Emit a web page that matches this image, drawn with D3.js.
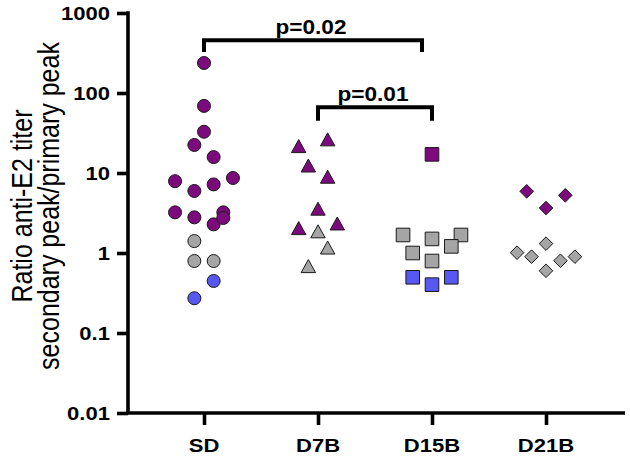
<!DOCTYPE html>
<html><head><meta charset="utf-8">
<script src="https://cdn.jsdelivr.net/npm/d3@7"></script>
<style>
html,body{margin:0;padding:0;background:#fff;}
text{font-family:"Liberation Sans",Arial,sans-serif;fill:#000;}
</style></head>
<body><svg id="chart" width="630" height="456"></svg>
<script>
// ---- data ----
const categories = ["SD", "D7B", "D15B", "D21B"];
const yTickValues = [0.01, 0.1, 1, 10, 100, 1000];
const yTickLabels = ["0.01", "0.1", "1", "10", "100", "1000"];
const yTitleLines = ["Ratio anti-E2 titer", "secondary peak/primary peak"];

// values, colour group (p=purple, g=grey, b=blue), beeswarm slot (half-steps)
const sdValues = [237, 69, 32.8, 22.4, 15.8, 7.9, 5.96, 7.2, 8.66, 3.22, 2.79, 2.28, 3.22, 2.74, 1.41, 0.794, 0.794, 0.447, 0.272];
const sdGroup  = ["p","p","p","p","p","p","p","p","p","p","p","p","p","p","g","g","g","b","b"];
const sdSlot   = [0, 0, 0, -1, 1, -3, -1, 1, 3, -3, -1, 1, 2, 2, -1, -1, 1, 1, -1];

const d7bValues = [21.5, 26.1, 12.3, 8.9, 3.55, 2.03, 2.32, 1.85, 1.16, 0.68];
const d7bGroup  = ["p","p","p","p","p","p","p","g","g","g"];
const d7bSlot   = [-2, 1, -1, 1, 0, -2, 2, 0, 1, -1];

const d15bValues = [17.1, 1.68, 1.50, 1.68, 1.0, 1.21, 0.794, 0.497, 0.402, 0.497];
const d15bGroup  = ["p","g","g","g","g","g","g","b","b","b"];
const d15bSlot   = [0, -3, 0, 3, -2, 2, 0, -2, 0, 2];

const d21bValues = [5.9, 5.26, 3.65, 1.31, 1.01, 0.90, 0.90, 0.80, 0.60];
const d21bGroup  = ["p","p","p","g","g","g","g","g","g"];
const d21bSlot   = [-2, 2, 0, 0, -3, -1.5, 3, 1.5, 0];

const groupColors = {p: "#7d0a7d", g: "#a5a5a5", b: "#5757f2"};
const categoryShapes = ["circle", "triangle", "square", "diamond"];

// brackets: from, to, height (value), leg bottom (value), label
const bracketFrom   = ["SD", "D7B"];
const bracketTo     = ["D15B", "D15B"];
const bracketTop    = [456, 66.2];
const bracketBottom = [325, 45.1];
const bracketLabel  = ["p=0.02", "p=0.01"];
const bracketEndShift = [-10, 0];

// ---- drawing ----
const svg = d3.select("#chart");
const SX = 1.16; // horizontal text stretch of the original figure

const x = d3.scalePoint().domain(categories).range([204, 546]);
const y = d3.scaleLog().domain([0.01, 1000]).range([413, 13]);
const jitter = d3.scaleLinear().domain([0, 1]).range([0, 9.65]);

const allGroups = [
  {cat: "SD", values: sdValues, group: sdGroup, slot: sdSlot},
  {cat: "D7B", values: d7bValues, group: d7bGroup, slot: d7bSlot},
  {cat: "D15B", values: d15bValues, group: d15bGroup, slot: d15bSlot},
  {cat: "D21B", values: d21bValues, group: d21bGroup, slot: d21bSlot}
];

function shapePath(shape) {
  if (shape === "circle") return d3.symbol(d3.symbolCircle, Math.PI * 6.5 * 6.5)();
  if (shape === "square") { const h = 6.8; return `M${-h},${-h}H${h}V${h}H${-h}Z`; }
  if (shape === "triangle") { return `M0,-6.8L7.2,6.2L-7.2,6.2Z`; }
  if (shape === "diamond") { const h = 6.8; return `M0,${-h}L${h},0L0,${h}L${-h},0Z`; }
}

// axes
const yAxis = d3.axisLeft(y).tickValues(yTickValues).tickSize(11).tickFormat("");
const gy = svg.append("g").attr("transform", "translate(128,0)").call(yAxis);
gy.select(".domain").attr("d", `M0,${y(1000) - 1.75}V${y(0.01)}`).attr("stroke", "#000").attr("stroke-width", 3.6);
gy.selectAll(".tick line").attr("stroke", "#000").attr("stroke-width", 3.6);

const xAxis = d3.axisBottom(x).tickSize(12).tickFormat("");
const gx = svg.append("g").attr("transform", `translate(0,${y(0.01)})`).call(xAxis);
gx.select(".domain").attr("d", `M126.2,0H625`).attr("stroke", "#000").attr("stroke-width", 3.6);
gx.selectAll(".tick line").attr("stroke", "#000").attr("stroke-width", 3.6);

// y tick labels
svg.append("g").selectAll("text").data(yTickValues).join("text")
  .attr("transform", (d) => `translate(110,${y(d) + 6.8}) scale(${SX},1)`)
  .attr("text-anchor", "end")
  .style("font-size", "19px").style("font-weight", "bold")
  .text((d, i) => yTickLabels[i]);

// x labels
svg.append("g").selectAll("text").data(categories).join("text")
  .attr("transform", (d) => `translate(${x(d)},451.5) scale(${SX},1)`)
  .attr("text-anchor", "middle")
  .style("font-size", "19px").style("font-weight", "bold")
  .text((d) => d);

// y title
const titleX = [32, 59];
svg.append("g").selectAll("text").data(yTitleLines).join("text")
  .attr("transform", (d, i) => `translate(${titleX[i]},206) scale(${SX},1) rotate(-90)`)
  .attr("text-anchor", "middle")
  .style("font-size", "25px")
  .text((d) => d);

// brackets
bracketLabel.forEach((lab, i) => {
  const x1 = x(bracketFrom[i]), x2 = x(bracketTo[i]) + bracketEndShift[i];
  const yt = y(bracketTop[i]), yb = y(bracketBottom[i]);
  svg.append("path")
    .attr("d", `M${x1},${yb}V${yt}H${x2}V${yb}`)
    .attr("fill", "none").attr("stroke", "#000").attr("stroke-width", 4)
    .attr("stroke-linejoin", "miter").attr("stroke-linecap", "butt");
  svg.append("text")
    .attr("transform", `translate(${(x1 + x2) / 2 - 2},${yt - 6}) scale(${SX},1)`)
    .attr("text-anchor", "middle")
    .style("font-size", "19.5px").style("font-weight", "bold")
    .text(lab);
});

// points
allGroups.forEach((g, gi) => {
  const pts = g.values.map((v, i) => ({v, grp: g.group[i], s: g.slot[i]}));
  svg.append("g").selectAll("path").data(pts).join("path")
    .attr("d", shapePath(categoryShapes[gi]))
    .attr("transform", (d) => `translate(${x(g.cat) + jitter(d.s)},${y(d.v)})`)
    .attr("fill", (d) => groupColors[d.grp])
    .attr("stroke", "#1a1a1a").attr("stroke-width", 1);
});
</script></body></html>
